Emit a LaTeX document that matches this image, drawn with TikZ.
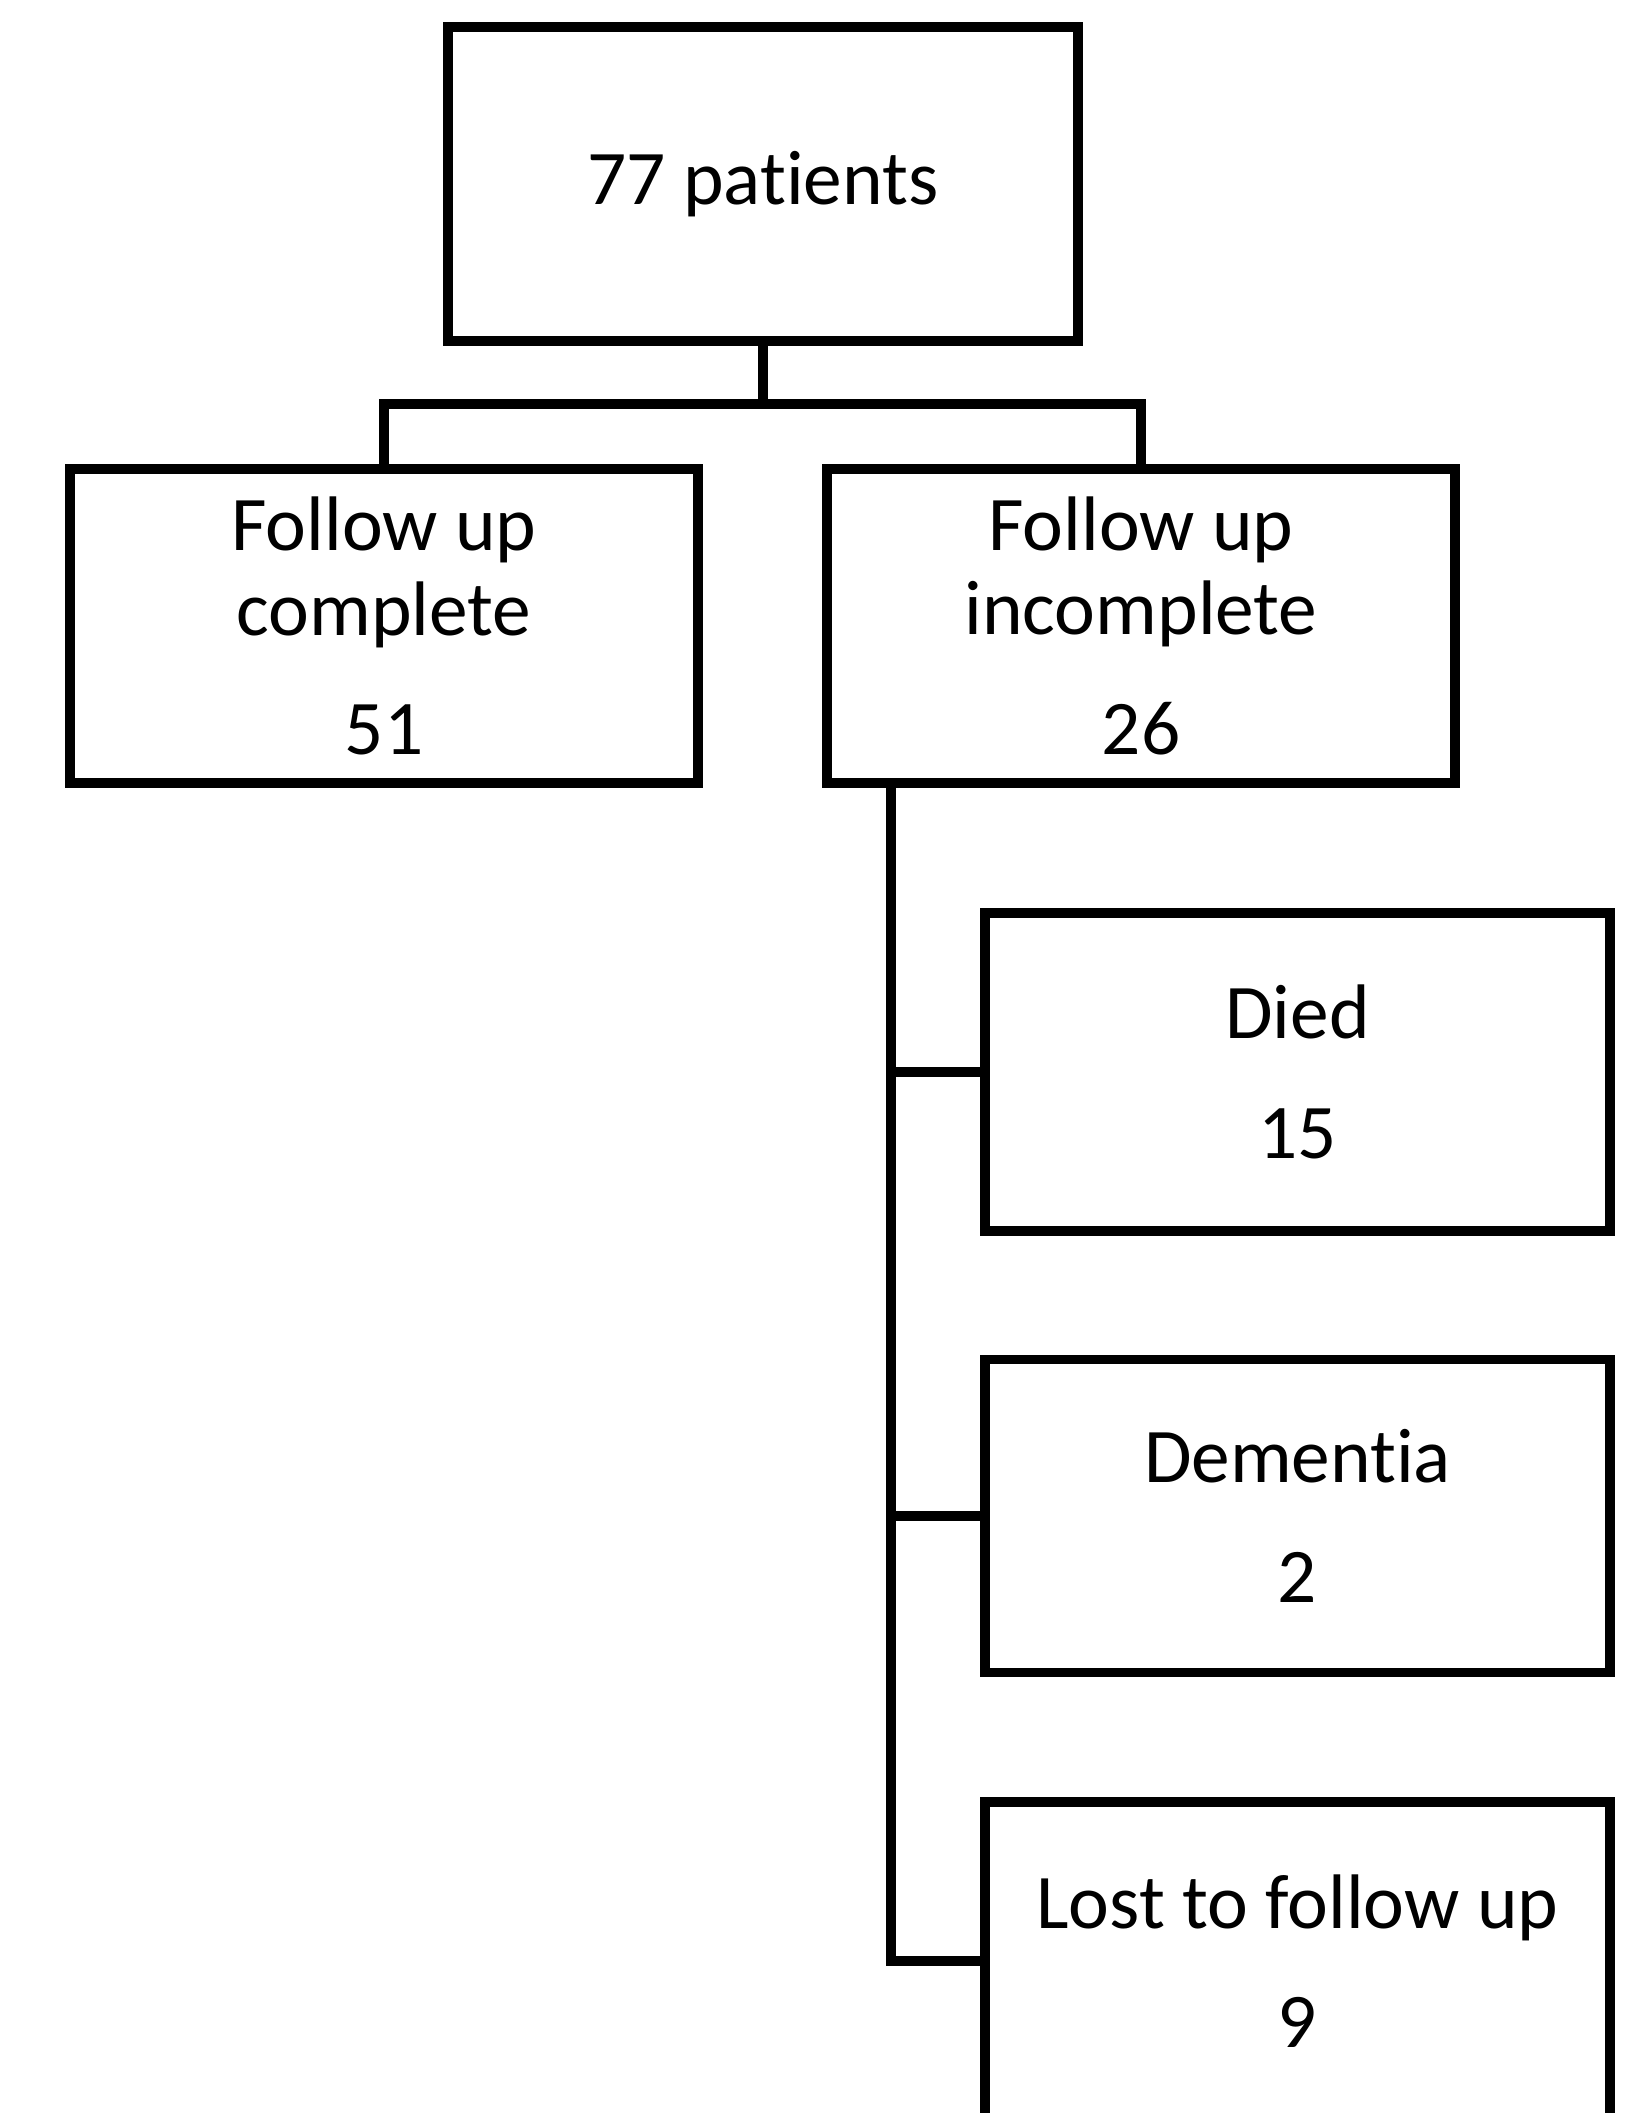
\documentclass[tikz,border=0pt]{standalone}
\usepackage{fontspec}
\setmainfont[Ligatures=NoCommon]{Carlito}
\usetikzlibrary{positioning}

\begin{document}
\begin{tikzpicture}[
            block/.style={rectangle, draw, line width=2.6pt, align=center, minimum width=6.28cm, minimum height=3.14cm, font=\fontsize{22}{24}\selectfont},
            link/.style={line width=2.6pt}
        ]
            \clip (0,0) rectangle (16.42,-21.13);
            \fill[white] (0,0) rectangle (16.42,-21.13);

            \node[block, minimum width=6.3cm] (total) at (7.63,-1.84) {77 patients};
            \node[block] (comp) at (3.84,-6.26) {Follow up\\complete\\[10pt]51};
            \node[block] (incomp) at (11.41,-6.26) {Follow up\\incomplete\\[10pt]26};
            \node[block, minimum width=6.25cm, minimum height=3.18cm] (died) at (12.975,-10.72) {Died\\[10pt]15};
            \node[block, minimum width=6.25cm, minimum height=3.13cm] (dem) at (12.975,-15.16) {Dementia\\[10pt]2};
            \node[block, minimum width=6.25cm, minimum height=3.18cm] (lost) at (12.975,-19.61) {Lost to follow up\\[10pt]9};

            \coordinate (split) at (7.63,-4.04);
            \coordinate (trunk) at (8.91,-7.83);

            \draw[link] (total.south) -- (split);
            \draw[link] (split) -| (comp.north);
            \draw[link] (split) -| (incomp.north);

            \draw[link] (trunk) |- (died.west);
            \draw[link] (trunk) |- (dem.west);
            \draw[link] (trunk) |- (lost.west);
        \end{tikzpicture}
\end{document}
